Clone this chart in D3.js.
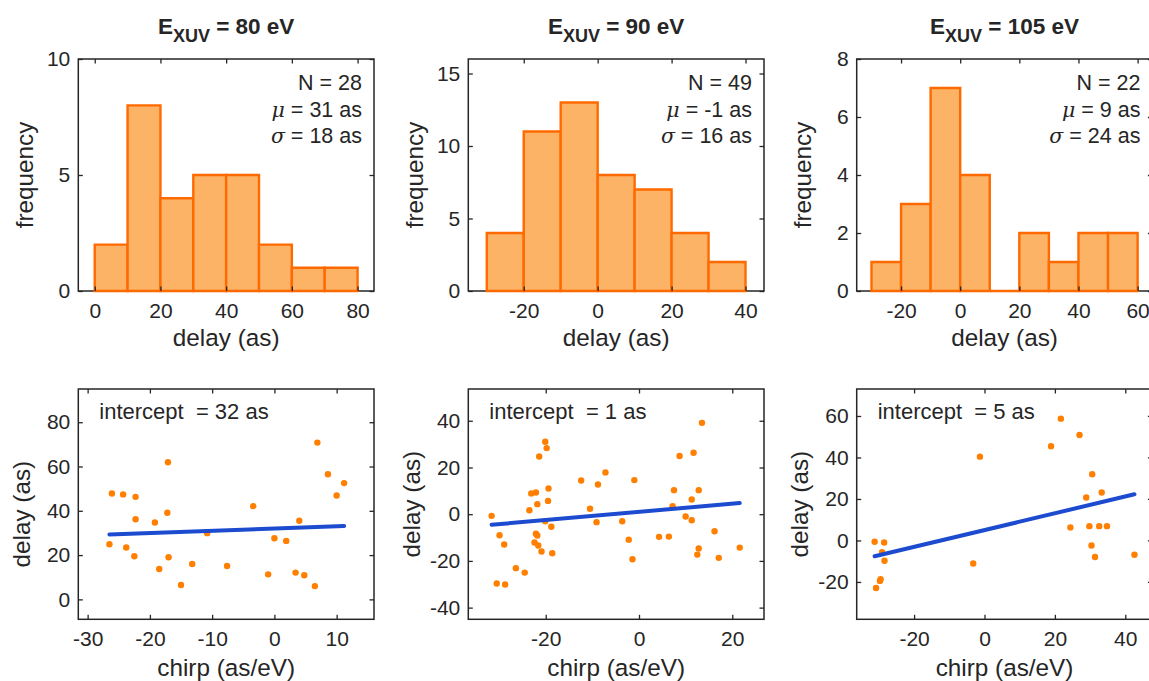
<!DOCTYPE html>
<html>
<head>
<meta charset="utf-8">
<script src="https://cdn.jsdelivr.net/npm/d3@7"></script>
<style>
  body { margin: 0; background: #fff; }
  svg text { font-family: "Liberation Sans", Arial, Helvetica, sans-serif; fill: #262626; }
</style>
</head>
<body>
<svg id="fig" width="1149" height="681"></svg>
<script>
// ---- photon energies (one column per energy) ----
const energies = [80, 90, 105];

// ---- delay histograms: bin edges (as) and counts ----
const binEdges80  = [0, 10, 20, 30, 40, 50, 60, 70, 80];
const counts80    = [2, 8, 4, 5, 5, 2, 1, 1];
const binEdges90  = [-30, -20, -10, 0, 10, 20, 30, 40];
const counts90    = [4, 11, 13, 8, 7, 4, 2];
const binEdges105 = [-30, -20, -10, 0, 10, 20, 30, 40, 50, 60];
const counts105   = [1, 3, 7, 4, 0, 2, 1, 2, 2];

// ---- summary statistics ----
const sampleN   = [28, 49, 22];
const meanDelay = [31, -1, 9];
const sdDelay   = [18, 16, 24];

// ---- chirp vs delay scatter ----
const chirp80 = [-26.5, -26.1, -24.3, -23.8, -22.3, -22.3, -22.5, -19.2, -18.5, -17.1,
                 -17.2, -17.0, -15.0, -13.2, -10.8, -7.6, -3.4, -1.0, 0.0, 1.9,
                 3.4, 4.0, 4.8, 6.5, 6.9, 8.6, 10.0, 11.2];
const delay80 = [24.9, 47.8, 47.4, 23.4, 46.3, 36.2, 19.5, 34.7, 13.7, 61.9,
                 39.1, 19.0, 6.5, 16.0, 29.9, 15.1, 42.1, 11.3, 27.6, 26.4,
                 12.1, 35.5, 10.9, 6.0, 70.8, 56.5, 46.9, 52.5];

const chirp90 = [-31.6, -30.5, -29.9, -28.9, -28.7, -26.4, -24.5, -23.5, -23.1, -22.1,
                 -21.8, -22.4, -22.1, -21.8, -21.6, -21.4, -20.9, -20.1, -19.8, -20.1,
                 -19.5, -19.4, -18.8, -18.6, -12.4, -10.5, -9.1, -8.8, -7.2, -3.6,
                 -2.2, -1.4, -1.0, 4.3, 6.4, 7.2, 7.5, 8.7, 10.0, 11.3,
                 11.3, 11.7, 12.8, 12.8, 12.5, 13.5, 16.2, 17.1, 21.6];
const delay90 = [-0.7, -29.7, -9.0, -13.0, -30.1, -23.1, -25.0, 1.7, 8.9, 9.3,
                 4.3, -12.1, -8.4, -9.1, -13.4, 24.7, -16.0, 31.0, 28.3, -3.0,
                 5.7, 11.0, -5.4, -16.7, 14.4, 2.3, -3.4, 12.7, 17.9, -3.0,
                 -10.9, -19.3, 14.6, -9.7, -9.6, 3.4, 10.3, 24.9, -1.0, 6.3,
                 -2.6, 26.3, 10.3, -14.7, -17.3, 39.1, -7.3, -18.7, -14.3];

const chirp105 = [-31.2, -30.8, -29.7, -29.5, -29.1, -28.5, -28.4, -3.2, -1.3, 18.9,
                  21.7, 24.4, 27.0, 28.9, 29.8, 30.4, 30.6, 31.4, 32.6, 33.3,
                  34.8, 42.6];
const delay105 = [-0.6, -22.9, -19.5, -18.7, -5.6, -1.0, -9.8, -11.1, 40.4, 45.4,
                  58.7, 6.3, 50.8, 20.7, 6.9, -2.4, 31.9, -8.0, 6.9, 23.1,
                  6.9, -6.9];

// ---- linear fits: delay = intercept + slope * chirp ----
const fitIntercept = [32, 1, 5];
const fitSlope     = [0.10, 0.175, 0.405];

// ---- axis ranges and ticks ----
const histXDomain = [[-5, 85], [-35, 45], [-35, 65]];
const histYDomain = [[0, 10], [0, 16], [0, 8]];
const histXTicks  = [[0, 20, 40, 60, 80], [-20, 0, 20, 40], [-20, 0, 20, 40, 60]];
const histYTicks  = [[0, 5, 10], [0, 5, 10, 15], [0, 2, 4, 6, 8]];

const scatXDomain = [[-31.5, 16], [-36.6, 26.8], [-36.3, 47.7]];
const scatYDomain = [[-9, 95], [-45, 53.6], [-38, 73]];
const scatXTicks  = [[-30, -20, -10, 0, 10], [-20, 0, 20], [-20, 0, 20, 40]];
const scatYTicks  = [[0, 20, 40, 60, 80], [-40, -20, 0, 20, 40], [-20, 0, 20, 40, 60]];

// ---- figure layout ----
const colLeft  = [78.3, 468.3, 856.7];
const colWidth = 295.7;
const histTop = 59, histBottom = 291;
const scatTop = 389, scatBottom = 619.3;
const scatYLabelShift = [10, 0, 0];

const AXIS_COLOR = "#262626";
const BAR_FILL = "#fdb366";
const BAR_EDGE = "#ff6a00";
const DOT_COLOR = "#ff7f00";
const FIT_COLOR = "#1c4bd0";
const TICK_LEN = 4.5;
const TICK_FONT = 21;
const LABEL_FONT = 24.3;
const NOTE_FONT = 21.5;

const svg = d3.select("#fig");

const histData = [
  { edges: binEdges80,  counts: counts80 },
  { edges: binEdges90,  counts: counts90 },
  { edges: binEdges105, counts: counts105 }
];
const scatData = [
  { x: chirp80,  y: delay80 },
  { x: chirp90,  y: delay90 },
  { x: chirp105, y: delay105 }
];

// Outline of the plotting area
function drawFrame(g, w, h) {
  g.append("rect")
    .attr("x", 0).attr("y", 0).attr("width", w).attr("height", h)
    .attr("fill", "none").attr("stroke", AXIS_COLOR).attr("stroke-width", 1.5);
}

// Inward ticks on all four sides, labels on bottom and left
function drawTicks(g, x, y, xTicks, yTicks, w, h) {
  const fmt = d => String(d);
  const style = sel => {
    sel.select(".domain").remove();
    sel.selectAll(".tick line").attr("stroke", AXIS_COLOR).attr("stroke-width", 1.3);
    sel.selectAll(".tick text")
      .attr("font-size", TICK_FONT)
      .attr("font-family", '"Liberation Sans", Arial, sans-serif')
      .attr("fill", AXIS_COLOR);
  };
  g.append("g").attr("transform", `translate(0,${h})`)
    .call(d3.axisBottom(x).tickValues(xTicks).tickSize(-TICK_LEN).tickPadding(12).tickFormat(fmt))
    .call(style);
  g.append("g")
    .call(d3.axisTop(x).tickValues(xTicks).tickSize(-TICK_LEN).tickFormat(""))
    .call(style);
  g.append("g")
    .call(d3.axisLeft(y).tickValues(yTicks).tickSize(-TICK_LEN).tickPadding(8).tickFormat(fmt))
    .call(style);
  g.append("g").attr("transform", `translate(${w},0)`)
    .call(d3.axisRight(y).tickValues(yTicks).tickSize(-TICK_LEN).tickFormat(""))
    .call(style);
}

function axisLabels(g, w, h, xText, yText, xBase, yBase, yShift) {
  g.append("text")
    .attr("x", w / 2).attr("y", xBase)
    .attr("text-anchor", "middle").attr("font-size", LABEL_FONT)
    .text(xText);
  g.append("text")
    .attr("transform", `translate(${yBase},${h / 2 + yShift}) rotate(-90)`)
    .attr("text-anchor", "middle").attr("font-size", LABEL_FONT)
    .text(yText);
}

energies.forEach((energy, i) => {
  const w = colWidth;

  // ---------- histogram ----------
  const hh = histBottom - histTop;
  const gh = svg.append("g").attr("transform", `translate(${colLeft[i]},${histTop})`);
  const hx = d3.scaleLinear().domain(histXDomain[i]).range([0, w]);
  const hy = d3.scaleLinear().domain(histYDomain[i]).range([hh, 0]);
  const bins = histData[i].counts.map((c, k) => ({
    x0: histData[i].edges[k], x1: histData[i].edges[k + 1], count: c
  }));
  drawFrame(gh, w, hh);
  // bars as closed paths so that empty bins still show their edge along the baseline
  gh.selectAll("path.bar").data(bins).join("path")
    .attr("class", "bar")
    .attr("d", d => {
      const p = d3.path();
      p.moveTo(hx(d.x0), hy(0));
      p.lineTo(hx(d.x0), hy(d.count));
      p.lineTo(hx(d.x1), hy(d.count));
      p.lineTo(hx(d.x1), hy(0));
      p.closePath();
      return p.toString();
    })
    .attr("fill", BAR_FILL)
    .attr("stroke", BAR_EDGE)
    .attr("stroke-width", 2.4);
  drawTicks(gh, hx, hy, histXTicks[i], histYTicks[i], w, hh);
  axisLabels(gh, w, hh, "delay (as)", "frequency", 287, 33 - colLeft[0], 0);

  // statistics block
  const rx = w - 12;
  gh.append("text").attr("x", rx).attr("y", 31).attr("text-anchor", "end")
    .attr("font-size", NOTE_FONT).text(`N = ${sampleN[i]}`);
  const mu = gh.append("text").attr("x", rx).attr("y", 58).attr("text-anchor", "end")
    .attr("font-size", NOTE_FONT);
  mu.append("tspan").attr("font-family", '"DejaVu Serif", "Liberation Serif", serif')
    .attr("font-style", "italic").attr("font-size", NOTE_FONT - 1).text("\u03bc");
  mu.append("tspan").text(` = ${meanDelay[i]} as`);
  const sg = gh.append("text").attr("x", rx).attr("y", 84).attr("text-anchor", "end")
    .attr("font-size", NOTE_FONT);
  sg.append("tspan").attr("font-family", '"DejaVu Serif", "Liberation Serif", serif')
    .attr("font-style", "italic").attr("font-size", NOTE_FONT - 1).text("\u03c3");
  sg.append("tspan").text(` = ${sdDelay[i]} as`);

  // title with subscript
  const title = svg.append("text")
    .attr("x", colLeft[i] + w / 2).attr("y", 34)
    .attr("text-anchor", "middle").attr("font-size", 22.5).attr("font-weight", "bold");
  title.append("tspan").text("E");
  title.append("tspan").attr("font-size", 18).attr("dy", 8).text("XUV");
  title.append("tspan").attr("dy", -8).text(` = ${energy} eV`);

  // ---------- scatter with linear fit ----------
  const sh = scatBottom - scatTop;
  const gs = svg.append("g").attr("transform", `translate(${colLeft[i]},${scatTop})`);
  const sx = d3.scaleLinear().domain(scatXDomain[i]).range([0, w]);
  const sy = d3.scaleLinear().domain(scatYDomain[i]).range([sh, 0]);
  const pts = scatData[i].x.map((c, k) => ({ chirp: c, delay: scatData[i].y[k] }));
  gs.selectAll("circle").data(pts).join("circle")
    .attr("cx", d => sx(d.chirp))
    .attr("cy", d => sy(d.delay))
    .attr("r", 3.2)
    .attr("fill", DOT_COLOR);
  const [cMin, cMax] = d3.extent(scatData[i].x);
  const fitPts = [cMin, cMax].map(c => [c, fitIntercept[i] + fitSlope[i] * c]);
  gs.append("path")
    .attr("d", d3.line().x(d => sx(d[0])).y(d => sy(d[1]))(fitPts))
    .attr("stroke", FIT_COLOR).attr("stroke-width", 4).attr("fill", "none")
    .attr("stroke-linecap", "round");
  drawFrame(gs, w, sh);
  drawTicks(gs, sx, sy, scatXTicks[i], scatYTicks[i], w, sh);
  axisLabels(gs, w, sh, "chirp (as/eV)", "delay (as)", 287, 30 - colLeft[0], scatYLabelShift[i]);
  gs.append("text")
    .attr("x", 21).attr("y", 30)
    .attr("font-size", 22)
    .attr("xml:space", "preserve")
    .style("white-space", "pre")
    .text(`intercept  = ${fitIntercept[i]} as`);
});
</script>
</body>
</html>
